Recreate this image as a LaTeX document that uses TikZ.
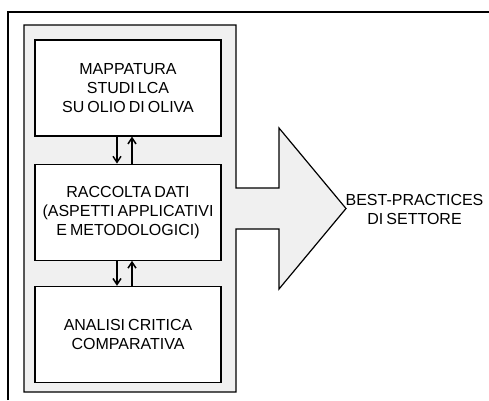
\documentclass[tikz,border=0pt]{standalone}
\usepackage{fontspec}
\setmainfont[WordSpace=0.7]{Liberation Sans}
\usetikzlibrary{positioning,arrows.meta}

\begin{document}
\begin{tikzpicture}[x=1pt,y=-1pt,
    fase/.style={draw, fill=white, line width=1.2pt, minimum width=186pt,
      minimum height=96pt, align=center, font=\fontsize{16}{19}\selectfont, inner sep=0pt},
    freccia/.style={line width=1.5pt, -{Straight Barb[length=6pt,width=8pt]}}]
\useasboundingbox (0,0) rectangle (489,400);
%cornice
\draw[line width=1.2pt] (8,400) |- (489,12);
%sfondo a freccia
\draw[fill=black!6, line width=1.2pt] (24,25) -- (236,25) -- (236,188) -- (279,188) -- (279,128)
  -- (346,208.5) -- (279,289) -- (279,229) -- (236,229) -- (236,392) -- (24,392) -- cycle;
\node[fase] (mappa) at (128,88) {MAPPATURA\\STUDI LCA\\SU OLIO DI OLIVA};
\node[fase, below=27pt of mappa] (dati) {RACCOLTA DATI\\(ASPETTI APPLICATIVI\\E METODOLOGICI)};
\node[fase, below=25pt of dati] (analisi) {ANALISI CRITICA\\COMPARATIVA};
\node[font=\fontsize{16}{19}\selectfont, align=center] (best) at (414.5,209) {BEST-PRACTICES\\DI SETTORE};
\draw[freccia] ([xshift=-11pt]mappa.south) -- ([xshift=-11pt]dati.north);
\draw[freccia] ([xshift=4pt]dati.north) -- ([xshift=4pt]mappa.south);
\draw[freccia] ([xshift=-11pt]dati.south) -- ([xshift=-11pt]analisi.north);
\draw[freccia] ([xshift=4pt]analisi.north) -- ([xshift=4pt]dati.south);
\end{tikzpicture}
\end{document}
